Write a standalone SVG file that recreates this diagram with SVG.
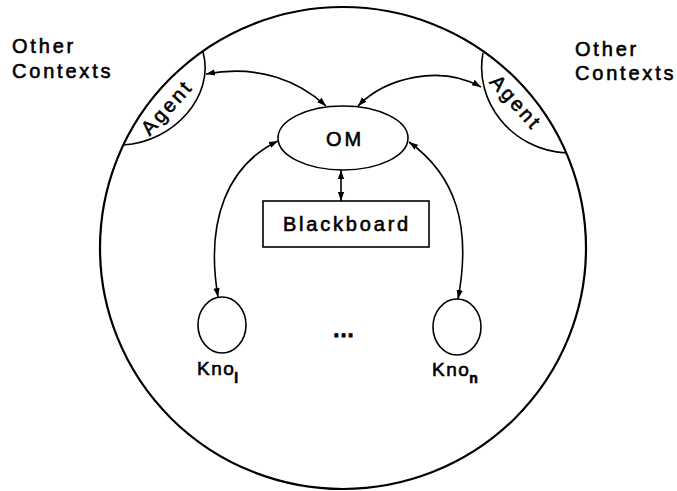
<svg xmlns="http://www.w3.org/2000/svg" width="677" height="491" viewBox="0 0 677 491">
<style>
.ln{fill:none;stroke:#000;stroke-width:1.6}
.sh{fill:#fff;stroke:#000;stroke-width:1.6}
.t{font-family:"Liberation Sans",Arial,sans-serif;fill:#000;stroke:#000;stroke-width:0.6;font-size:20px;letter-spacing:2.8px}
.k{font-family:"Liberation Sans",Arial,sans-serif;fill:#000;stroke:#000;stroke-width:0.6;font-size:19px;letter-spacing:1.5px}
.s{font-family:"Liberation Sans",Arial,sans-serif;fill:#000;font-size:14px;font-weight:bold}
</style>
<defs>
<marker id="ah2" viewBox="0 0 10 10" refX="10" refY="5" markerWidth="9" markerHeight="9" markerUnits="userSpaceOnUse" orient="auto-start-reverse">
<path d="M0,1.5 L10,5 L0,8.5 z" fill="#000"/>
</marker>
</defs>
<g id="context">
<ellipse cx="343" cy="248" rx="243" ry="241" fill="none" stroke="#000" stroke-width="2.2"/>
</g>
<g id="other-left">
<text class="t" x="12" y="53">Other</text>
<text class="t" x="12" y="78">Contexts</text>
</g>
<g id="other-right">
<text class="t" x="575" y="56">Other</text>
<text class="t" x="575" y="80">Contexts</text>
</g>
<g id="agent-left">
<path class="ln" d="M203,52 C215,95 175,142 123,145"/>
<text class="t" x="0" y="0" font-size="19" text-anchor="middle" transform="translate(172,112) rotate(-48)">Agent</text>
</g>
<g id="agent-right">
<path class="ln" d="M483,53 C474,100 510,150 567,153"/>
<text class="t" x="0" y="0" font-size="19" text-anchor="middle" transform="translate(511,107) rotate(48)">Agent</text>
</g>
<g id="om">
<ellipse class="sh" cx="343" cy="138" rx="65" ry="32"/>
<text class="t" x="345" y="146" text-anchor="middle">OM</text>
</g>
<g id="blackboard">
<rect class="sh" x="263" y="201" width="166" height="46"/>
<text class="t" x="347" y="231" text-anchor="middle">Blackboard</text>
</g>
<g id="kno1">
<ellipse class="sh" cx="222" cy="325" rx="24" ry="28"/>
<text class="k" x="197" y="375">Kno<tspan class="s" dx="-1" dy="8">l</tspan></text>
</g>
<g id="kno-n">
<ellipse class="sh" cx="457" cy="327" rx="24" ry="28"/>
<text class="k" x="432" y="376">Kno<tspan class="s" dx="-1" dy="7">n</tspan></text>
</g>
<g id="ellipsis">
<text x="344" y="337" text-anchor="middle" style="font-family:'Liberation Sans',Arial,sans-serif;font-size:22px;font-weight:bold;letter-spacing:1px;stroke:#000;stroke-width:0.8">...</text>
</g>
<g id="connectors">
<path class="ln" d="M206,74 C260,64 300,82 326,106" marker-start="url(#ah2)" marker-end="url(#ah2)"/>
<path class="ln" d="M358,106 C385,78 440,64 481,87" marker-start="url(#ah2)" marker-end="url(#ah2)"/>
<path class="ln" d="M341,170 L341,201" marker-start="url(#ah2)" marker-end="url(#ah2)"/>
<path class="ln" d="M218,297 C205,220 228,165 278,141" marker-start="url(#ah2)" marker-end="url(#ah2)"/>
<path class="ln" d="M458,299 C472,225 455,175 409,142" marker-start="url(#ah2)" marker-end="url(#ah2)"/>
</g>
</svg>
